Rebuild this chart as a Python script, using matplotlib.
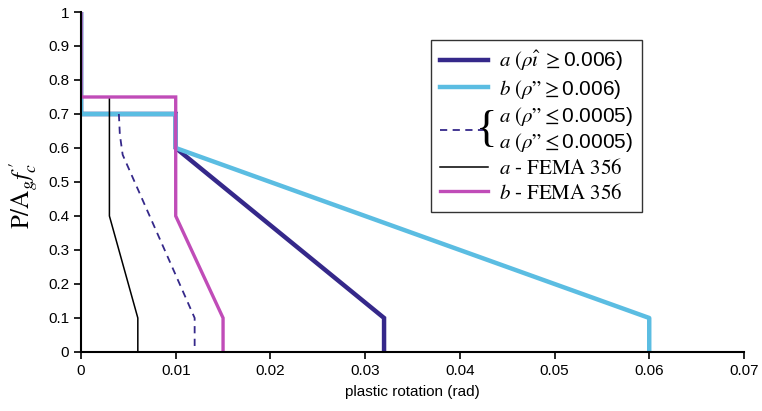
import matplotlib.pyplot as plt
import numpy as np

# rotation (rad) / axial load ratio pairs
a_hi_x = [0, 0, 0.01, 0.01, 0.032, 0.032]
a_hi_y = [1, 0.7, 0.7, 0.6, 0.1, 0]
b_hi_x = [0, 0, 0.01, 0.01, 0.06, 0.06]
b_hi_y = [1, 0.7, 0.7, 0.6, 0.1, 0]
a_lo_x = [0.004, 0.0041, 0.0044, 0.012, 0.012]
a_lo_y = [0.7, 0.64, 0.58, 0.1, 0]
a_fema_x = [0.003, 0.003, 0.006, 0.006]
a_fema_y = [0.75, 0.4, 0.1, 0]
b_fema_x = [0, 0, 0.01, 0.01, 0.015, 0.015]
b_fema_y = [1, 0.75, 0.75, 0.4, 0.1, 0]

xticks = [0, 0.01, 0.02, 0.03, 0.04, 0.05, 0.06, 0.07]
yticks = [0, 0.1, 0.2, 0.3, 0.4, 0.5, 0.6, 0.7, 0.8, 0.9, 1]

plt.rcParams['font.family'] = ['Liberation Sans', 'DejaVu Sans']
plt.rcParams['mathtext.fontset'] = 'stix'

fig = plt.figure(figsize=(7.62, 4.11), dpi=100)
ax = fig.add_axes([0.1063, 0.1436, 0.8700, 0.8272])

lo_lab = r'$a\ \mathrm{(}\rho”\leq$0.0005)'
ax.plot(a_hi_x, a_hi_y, color='#35288a', lw=3.2, solid_joinstyle='miter',
        label=r'$a\ \mathrm{(}\rho\hat{\imath}\ \geq$0.006)')
ax.plot(b_hi_x, b_hi_y, color='#5bbde2', lw=3.2,
        label=r'$b\ \mathrm{(}\rho”\geq$0.006)')
ax.plot(a_lo_x, a_lo_y, color='#35288a', lw=1.3, dashes=(4, 3),
        label=lo_lab + '\n' + lo_lab)
ax.plot(a_fema_x, a_fema_y, color='black', lw=1.1,
        label=r'$a\ \text{- FEMA 356}$')
ax.plot(b_fema_x, b_fema_y, color='#c04cb8', lw=2.4, solid_joinstyle='miter',
        label=r'$b\ \text{- FEMA 356}$')

ax.set_xlim(0, 0.07)
ax.set_ylim(0, 1)
ax.set_xticks(xticks)
ax.set_xticklabels(['0' if t == 0 else f'{t:g}' for t in xticks])
ax.set_yticks(yticks)
ax.set_yticklabels(['0' if t == 0 else f'{t:g}' for t in yticks])
ax.tick_params(labelsize=11, length=5, width=1.2, direction='out')
for s in ['top', 'right']:
    ax.spines[s].set_visible(False)
for s in ['left', 'bottom']:
    ax.spines[s].set_linewidth(1.5)

ax.set_xlabel('plastic rotation (rad)', fontsize=11, labelpad=5)
ax.set_ylabel(r"$\mathrm{P/A}_g f_c^{\,\prime}$", fontsize=18)
ax.yaxis.set_label_coords(-0.062, 0.46)

leg = ax.legend(loc='upper left', bbox_to_anchor=(0.5656, 0.9027),
                bbox_transform=fig.transFigure, fontsize=15,
                frameon=True, fancybox=False, edgecolor='black',
                handlelength=2.3, handletextpad=0.5, borderaxespad=0,
                labelspacing=0.2, borderpad=0.45)
leg.get_frame().set_linewidth(1.0)

# curly brace in front of the two-line entry
fig.canvas.draw()
bb = leg.get_texts()[2].get_window_extent()
x0, y0 = fig.transFigure.inverted().transform((bb.x0 - 1, (bb.y0 + bb.y1) / 2))
fig.text(x0, y0, '{', fontsize=32, va='center', ha='right',
         family='Liberation Serif')

fig.savefig('out.png', dpi=100)
